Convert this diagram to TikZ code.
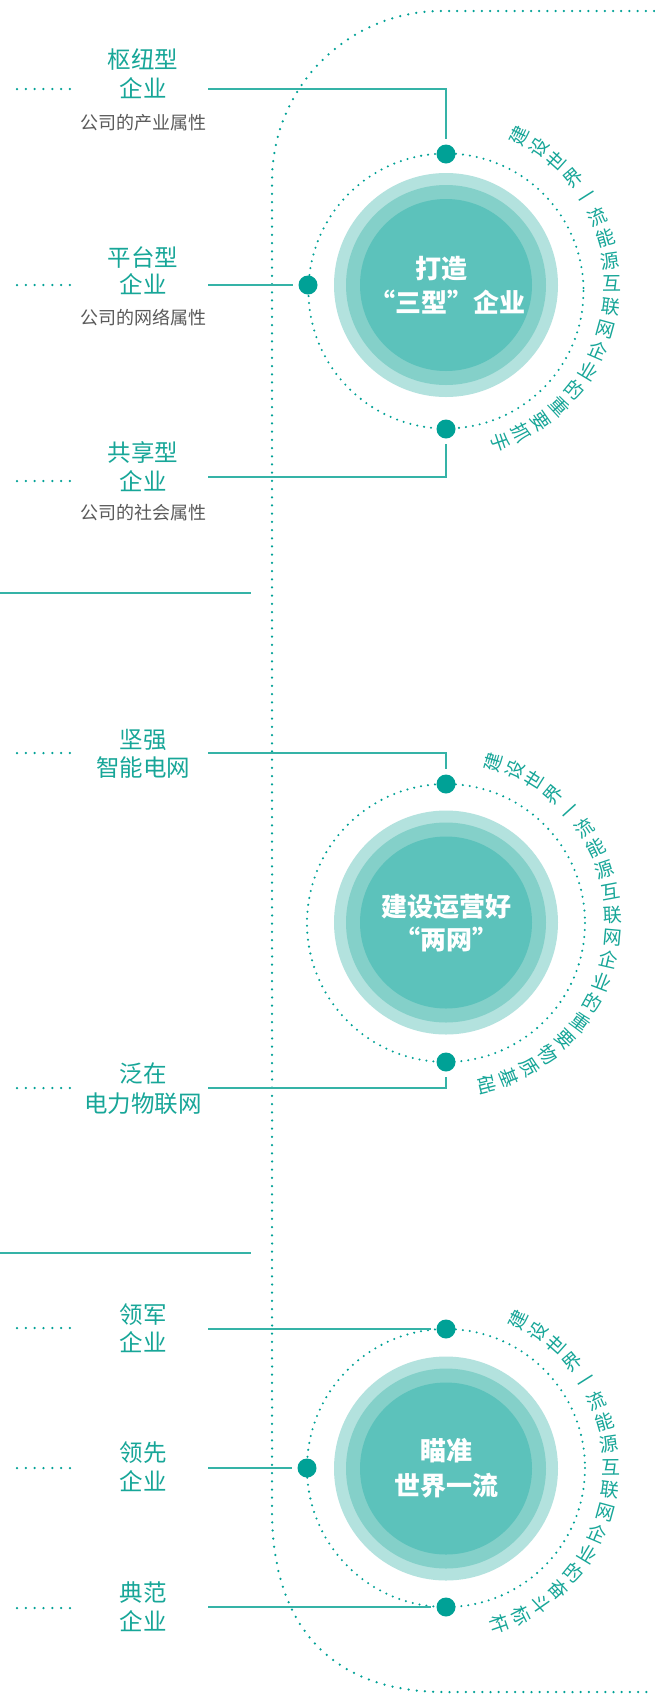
\documentclass[tikz,border=0pt]{standalone}
\usepackage{fontspec}
\setmainfont{Noto Sans CJK SC}
\usetikzlibrary{calc}
\definecolor{teal1}{HTML}{00A196}
\definecolor{tealtxt}{HTML}{17A698}
\definecolor{tealline}{HTML}{35B3A7}
\definecolor{ringA}{HTML}{B3E2DE}
\definecolor{ringB}{HTML}{84D0C9}
\definecolor{ringC}{HTML}{5CC2BB}
\definecolor{graytxt}{HTML}{5A5A5A}
\tikzset{
  dotline/.style={teal1, line width=2.5pt, line cap=round, dash pattern=on 0pt off 8.2pt},
  shortdots/.style={teal1, line width=2.5pt, line cap=round, dash pattern=on 0pt off 8.83pt},
  dotring/.style={teal1, line width=2.3pt, line cap=round, dash pattern=on 0pt off 7pt},
  conn/.style={tealline, line width=1.4pt, shorten >=5pt},
  sepline/.style={tealline, line width=1.4pt},
  hub/.style={circle, fill=teal1, minimum size=19pt, inner sep=0pt},
  lab/.style={text=tealtxt, font=\fontsize{23.5}{28}\selectfont, inner sep=0pt, text height=20.7pt, text depth=2.8pt},
  sublab/.style={text=graytxt, font=\fontsize{18}{22}\selectfont, inner sep=0pt, text height=15.8pt, text depth=2.2pt},
  ctr/.style={text=white, font=\fontsize{26}{30}\selectfont\bfseries, inner sep=0pt, text height=22.9pt, text depth=3.1pt},
  arctxt/.style={text=tealtxt, font=\fontsize{19}{22}\selectfont, inner sep=0pt, text height=16.7pt, text depth=2.3pt},
}
\begin{document}
\begin{tikzpicture}[x=1pt,y=-1pt]
\fill[white] (0,0) rectangle (654,1695);
\useasboundingbox (0,0) rectangle (654,1695);

% outer dotted frame
\draw[dotline] (654,11) -- (442,11) .. controls (348,11) and (272,87) .. (272,181)
  -- (272,1510) .. controls (272,1628) and (333,1692) .. (445,1692) -- (654,1692);

% separators
\draw[sepline] (0,593) -- (251,593);
\draw[sepline] (0,1253) -- (251,1253);

% ---------- circle 1 ----------
\coordinate (cen1) at (446,285);
\fill[ringA] (cen1) circle (112);
\fill[ringB] (cen1) circle (100);
\fill[ringC] (cen1) circle (86);
\draw[dotring] (446,291) circle (137.5);
\node[hub] (h1t) at (446,154) {};
\node[hub] (h1l) at (308,285) {};
\node[hub] (h1b) at (446,429) {};
\node[ctr] (c1a) at (441,269) {打造};
\node[ctr] (c1b) at (447,303) {“三型”企业};

\node[lab] (l1a) at (143,60) {枢纽型};
\node[lab] (l1b) at (143,89) {企业};
\node[sublab] (l1c) at (143,123) {公司的产业属性};
\node[lab] (l2a) at (143,258) {平台型};
\node[lab] (l2b) at (143,285) {企业};
\node[sublab] (l2c) at (143,318) {公司的网络属性};
\node[lab] (l3a) at (143,453) {共享型};
\node[lab] (l3b) at (143,482) {企业};
\node[sublab] (l3c) at (143,513) {公司的社会属性};

\draw[shortdots] (17,89) -- (70,89);
\draw[shortdots] (17,285) -- (70,285);
\draw[shortdots] (17,481) -- (70,481);

\coordinate (s1a) at (208,89);
\coordinate (s1b) at (208,285);
\coordinate (s1c) at (208,477);
\draw[conn] (s1a) -| (h1t);
\draw[conn] (s1b) -- (h1l);
\draw[conn] (s1c) -| (h1b);

\foreach \ch [count=\i from 0] in {建,设,世,界,一,流,能,源,互,联,网,企,业,的,重,要,抓,手} {
  \pgfmathsetmacro\ang{64-7.94*\i}
  \pgfmathsetmacro\pa{-\ang}
  \node[arctxt, rotate=\ang] (ta\i) at ($(cen1)+(\pa:166)$) {\ch};
}

% ---------- circle 2 ----------
\coordinate (cen2) at (446,922.5);
\fill[ringA] (cen2) circle (112);
\fill[ringB] (cen2) circle (100);
\fill[ringC] (cen2) circle (86);
\draw[dotring] (446,923) circle (139);
\node[hub] (h2t) at (446,784) {};
\node[hub] (h2b) at (446,1062) {};
\node[ctr] (c2a) at (446,907) {建设运营好};
\node[ctr] (c2b) at (446,940) {“两网”};

\node[lab] (m1a) at (143,740) {坚强};
\node[lab] (m1b) at (143,768) {智能电网};
\node[lab] (m2a) at (143,1074) {泛在};
\node[lab] (m2b) at (143,1104) {电力物联网};

\draw[shortdots] (17,753) -- (70,753);
\draw[shortdots] (17,1088) -- (70,1088);

\coordinate (s2a) at (208,753);
\coordinate (s2b) at (208,1088);
\draw[conn] (s2a) -| (h2t);
\draw[conn] (s2b) -| (h2b);

\foreach \ch [count=\i from 0] in {建,设,世,界,一,流,能,源,互,联,网,企,业,的,重,要,物,质,基,础} {
  \pgfmathsetmacro\ang{73.6-7.87*\i}
  \pgfmathsetmacro\pa{-\ang}
  \node[arctxt, rotate=\ang] (tb\i) at ($(cen2)+(\pa:167)$) {\ch};
}

% ---------- circle 3 ----------
\coordinate (cen3) at (446,1468.5);
\fill[ringA] (cen3) circle (112);
\fill[ringB] (cen3) circle (100);
\fill[ringC] (cen3) circle (86);
\draw[dotring] (446,1468) circle (139);
\node[hub] (h3t) at (446,1329) {};
\node[hub] (h3l) at (307,1468) {};
\node[hub] (h3b) at (446,1607) {};
\node[ctr] (c3a) at (446.5,1451) {瞄准};
\node[ctr] (c3b) at (446.5,1486) {世界一流};

\node[lab] (n1a) at (143,1315) {领军};
\node[lab] (n1b) at (143,1343) {企业};
\node[lab] (n2a) at (143,1453) {领先};
\node[lab] (n2b) at (143,1482) {企业};
\node[lab] (n3a) at (143,1593) {典范};
\node[lab] (n3b) at (143,1622) {企业};

\draw[shortdots] (17,1328) -- (70,1328);
\draw[shortdots] (17,1468) -- (70,1468);
\draw[shortdots] (17,1608) -- (70,1608);

\coordinate (s3a) at (208,1329);
\coordinate (s3b) at (208,1468);
\coordinate (s3c) at (208,1607);
\draw[conn] (s3a) -- (h3t);
\draw[conn] (s3b) -- (h3l);
\draw[conn] (s3c) -- (h3b);

\foreach \ch [count=\i from 0] in {建,设,世,界,一,流,能,源,互,联,网,企,业,的,奋,斗,标,杆} {
  \pgfmathsetmacro\ang{64-7.94*\i}
  \pgfmathsetmacro\pa{-\ang}
  \node[arctxt, rotate=\ang] (tc\i) at ($(cen3)+(\pa:165)$) {\ch};
}
\end{tikzpicture}
\end{document}
